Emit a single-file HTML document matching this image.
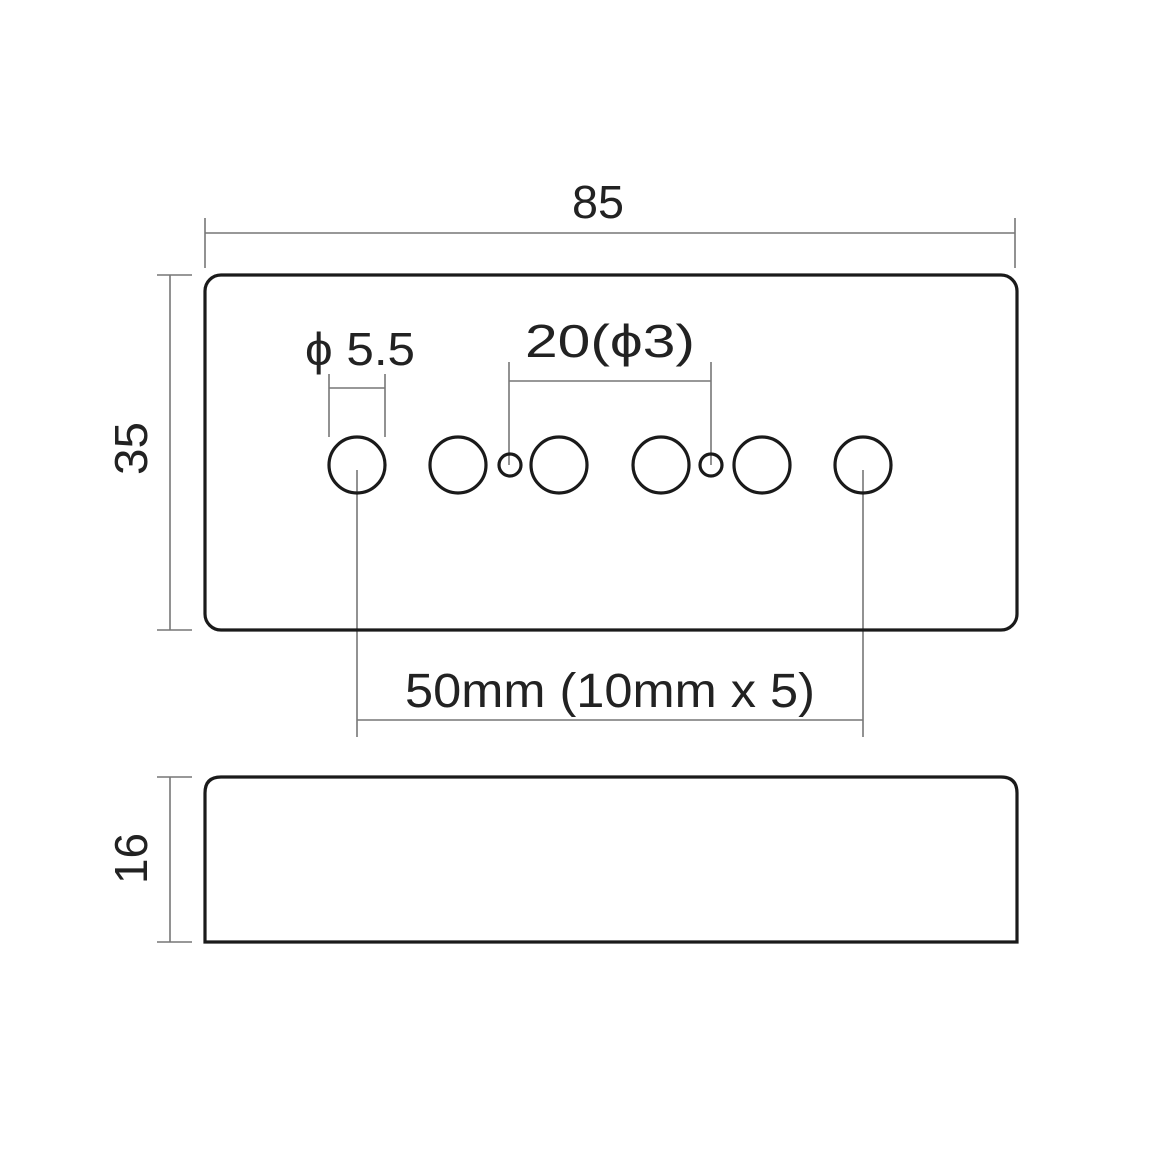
<!DOCTYPE html>
<html><head><meta charset="utf-8"><style>
html,body{margin:0;padding:0;background:#fff;}
svg{display:block;}
text{font-family:"Liberation Sans","Noto Sans CJK JP",sans-serif;fill:#222;}
</style></head><body>
<svg width="1160" height="1160" viewBox="0 0 1160 1160">
<g stroke="#777" stroke-width="1.6" fill="none">
  <line x1="205" y1="233" x2="1015" y2="233"/>
  <line x1="205" y1="218" x2="205" y2="268"/>
  <line x1="1015" y1="218" x2="1015" y2="268"/>
  <line x1="170" y1="275" x2="170" y2="630"/>
  <line x1="157" y1="275" x2="192" y2="275"/>
  <line x1="157" y1="630" x2="192" y2="630"/>
  <line x1="170" y1="777" x2="170" y2="942"/>
  <line x1="157" y1="777" x2="192" y2="777"/>
  <line x1="157" y1="942" x2="192" y2="942"/>
  <line x1="329" y1="374" x2="329" y2="437"/>
  <line x1="385" y1="374" x2="385" y2="437"/>
  <line x1="329" y1="388" x2="385" y2="388"/>
  <line x1="509" y1="362" x2="509" y2="465"/>
  <line x1="711" y1="362" x2="711" y2="465"/>
  <line x1="509" y1="381" x2="711" y2="381"/>
  <line x1="357" y1="470" x2="357" y2="737"/>
  <line x1="863" y1="470" x2="863" y2="737"/>
  <line x1="357" y1="720" x2="863" y2="720"/>
</g>
<g stroke="#1a1a1a" stroke-width="3.2" fill="none">
  <rect x="205" y="275" width="812" height="355" rx="16" ry="16"/>
  <path d="M205 942 L205 793 Q205 777 221 777 L1001 777 Q1017 777 1017 793 L1017 942 Z"/>
  <circle cx="357" cy="465" r="28"/>
  <circle cx="458" cy="465" r="28"/>
  <circle cx="559" cy="465" r="28"/>
  <circle cx="661" cy="465" r="28"/>
  <circle cx="762" cy="465" r="28"/>
  <circle cx="863" cy="465" r="28"/>
  <circle cx="510" cy="465" r="11"/>
  <circle cx="711" cy="465" r="11"/>
</g>
<text x="572" y="218" font-size="46" textLength="52" lengthAdjust="spacingAndGlyphs">85</text>
<text x="305" y="365" font-size="46" textLength="110" lengthAdjust="spacingAndGlyphs">ϕ 5.5</text>
<text x="525" y="357" font-size="46" textLength="170" lengthAdjust="spacingAndGlyphs">20(ϕ3)</text>
<text x="405" y="707" font-size="48" textLength="410" lengthAdjust="spacingAndGlyphs">50mm (10mm x 5)</text>
<text transform="translate(147,475) rotate(-90)" font-size="46" textLength="53" lengthAdjust="spacingAndGlyphs">35</text>
<text transform="translate(147,884) rotate(-90)" font-size="46" textLength="51" lengthAdjust="spacingAndGlyphs">16</text>
</svg>
</body></html>
